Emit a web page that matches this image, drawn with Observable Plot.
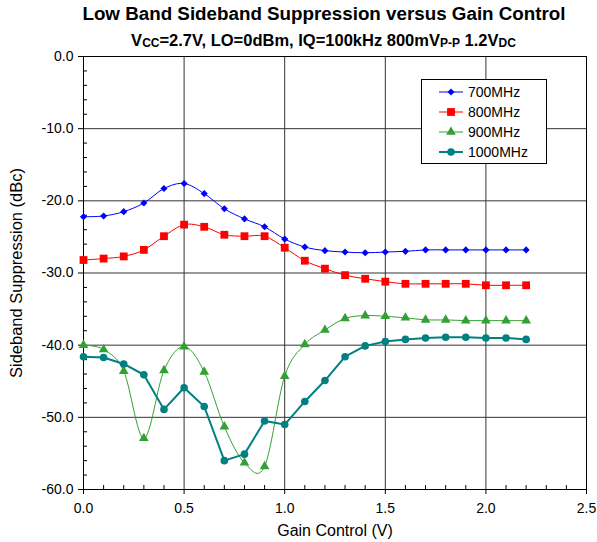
<!DOCTYPE html>
<html><head><meta charset="utf-8">
<script src="https://cdn.jsdelivr.net/npm/d3@7"></script>
<script src="https://cdn.jsdelivr.net/npm/@observablehq/plot@0.6"></script>
<style>
body{margin:0;background:#fff;font-family:"Liberation Sans",Arial,sans-serif;}
#wrap{position:relative;width:597px;height:542px;overflow:hidden;}
.title{position:absolute;text-align:center;font-weight:bold;color:#000;white-space:nowrap;line-height:1;}
.title sub{font-size:12px;vertical-align:-1px;line-height:0;}
#chart{position:absolute;left:0;top:0;}
#legend{position:absolute;left:421px;top:79px;}
</style></head><body>
<div id="wrap">
<div id="chart"></div>
<div class="title" style="top:4.8px;left:25.5px;width:597px;font-size:18.8px;">Low Band Sideband Suppression versus Gain Control</div>
<div class="title" style="top:31.7px;left:25px;width:597px;font-size:16.5px;">V<sub>CC</sub>=2.7V, LO=0dBm, IQ=100kHz 800mV<sub>P-P</sub> 1.2V<sub>DC</sub></div>
<div id="legend"></div>
</div>
<script>
const gain = [0.0,0.1,0.2,0.3,0.4,0.5,0.6,0.7,0.8,0.9,1.0,1.1,1.2,1.3,1.4,1.5,1.6,1.7,1.8,1.9,2.0,2.1,2.2];
const s700 = [-22.2,-22.1,-21.5,-20.3,-18.3,-17.6,-19.0,-21.1,-22.5,-23.6,-25.3,-26.4,-26.9,-27.1,-27.2,-27.1,-27.0,-26.8,-26.8,-26.8,-26.8,-26.8,-26.8];
const s800 = [-28.2,-28.0,-27.7,-26.8,-24.9,-23.3,-23.6,-24.7,-24.9,-24.9,-26.5,-28.3,-29.4,-30.3,-30.8,-31.2,-31.5,-31.5,-31.5,-31.5,-31.7,-31.7,-31.7];
const s900 = [-40.0,-40.6,-43.6,-52.9,-43.5,-40.2,-43.7,-51.3,-56.3,-56.8,-44.3,-39.9,-37.9,-36.3,-35.9,-36.0,-36.2,-36.5,-36.5,-36.6,-36.6,-36.6,-36.6];
const s1000 = [-41.6,-41.7,-42.6,-44.1,-48.9,-45.9,-48.5,-56.0,-55.1,-50.5,-51.0,-47.8,-44.9,-41.6,-40.1,-39.5,-39.2,-39.0,-38.9,-38.9,-39.0,-39.0,-39.2];
const seriesNames = ["700MHz","800MHz","900MHz","1000MHz"];
const seriesColors = ["#0000ff","#ff0000","#33a033","#008080"];
const seriesSymbols = ["diamond2","square","triangle","circle"];
const xTicks = [0,0.5,1.0,1.5,2.0,2.5];
const xMinorTicks = [0.1,0.2,0.3,0.4,0.6,0.7,0.8,0.9,1.1,1.2,1.3,1.4,1.6,1.7,1.8,1.9,2.1,2.2,2.3,2.4];
const yTicks = [0,-10,-20,-30,-40,-50,-60];
const yMinorTicks = [-2,-4,-6,-8,-12,-14,-16,-18,-22,-24,-26,-28,-32,-34,-36,-38,-42,-44,-46,-48,-52,-54,-56,-58];
const xTitle = "Gain Control (V)";
const yTitle = "Sideband Suppression (dBc)";

const allSeries = [s700,s800,s900,s1000];
const data = allSeries.flatMap((s,k)=>s.map((v,i)=>({x:gain[i], y:v, series:seriesNames[k]})));

const smooth = d3.curveCardinal.tension(0);
const styleFor = [
  {curve: smooth, strokeWidth:1, r:3.2},
  {curve: smooth, strokeWidth:1, r:4.4},
  {curve: smooth, strokeWidth:1, r:3.6},
  {curve: "linear", strokeWidth:2, r:3.8}
];

const marks = [
  Plot.gridX(xTicks, {stroke:"#333", strokeOpacity:1, strokeWidth:1}),
  Plot.gridY(yTicks, {stroke:"#333", strokeOpacity:1, strokeWidth:1}),
  Plot.axisX(xMinorTicks, {tickSize:-4, tickFormat:()=>"", label:null, stroke:"#000"}),
  Plot.axisY(yMinorTicks, {tickSize:-4, tickFormat:()=>"", label:null, stroke:"#000"}),
  Plot.axisX(xTicks, {tickSize:5, tickPadding:9, tickFormat:d=>d.toFixed(1), label:null, fontSize:14}),
  Plot.axisY(yTicks, {tickSize:5, tickPadding:5, tickFormat:d=>d.toFixed(1), label:null, fontSize:14}),
  Plot.frame({stroke:"#000", strokeWidth:1}),
];
seriesNames.forEach((name,k)=>{
  const d = data.filter(p=>p.series===name);
  marks.push(Plot.line(d, {x:"x", y:"y", stroke:seriesColors[k], strokeWidth:styleFor[k].strokeWidth, curve:styleFor[k].curve}));
  marks.push(Plot.dot(d, {x:"x", y:"y", symbol:()=>seriesSymbols[k], fill:seriesColors[k], stroke:"none", r:styleFor[k].r}));
});
marks.push(Plot.text([xTitle], {frameAnchor:"bottom", dy:46, text:d=>d, fontSize:16, fill:"#000"}));
marks.push(Plot.text([yTitle], {frameAnchor:"left", textAnchor:"middle", dx:-67, rotate:-90, text:d=>d, fontSize:16.5, fill:"#000"}));

const chart = Plot.plot({
  width:597, height:542,
  marginLeft:83, marginRight:11, marginTop:56, marginBottom:53,
  x:{domain:[0,2.5]},
  y:{domain:[-60,0]},
  symbol:{type:"identity"},
  style:{fontFamily:"Liberation Sans, Arial, sans-serif", fontSize:"14px", color:"#000", background:"transparent", overflow:"visible"},
  marks
});
document.getElementById("chart").appendChild(chart);

// legend
const lw = 126, lh = 85;
const lg = d3.select("#legend").append("svg").attr("width", lw).attr("height", lh);
lg.append("rect").attr("x",0.5).attr("y",0.5).attr("width",lw-1).attr("height",lh-1).attr("fill","#fff").attr("stroke","#000");
const symMap = {diamond2:d3.symbolDiamond2, square:d3.symbolSquare, triangle:d3.symbolTriangle, circle:d3.symbolCircle};
seriesNames.forEach((name,k)=>{
  const cy = 13 + k*20;
  const g = lg.append("g").attr("transform",`translate(0,${cy})`);
  g.append("line").attr("x1",18).attr("x2",42).attr("y1",0).attr("y2",0).attr("stroke",seriesColors[k]).attr("stroke-width",k===3?2:1);
  const r = styleFor[k].r;
  g.append("path").attr("d", d3.symbol(symMap[seriesSymbols[k]], Math.PI*r*r)()).attr("transform","translate(30,0)").attr("fill",seriesColors[k]);
  g.append("text").attr("x",47).attr("y",0).attr("dy","0.35em").attr("font-size",14).attr("font-family","Liberation Sans, Arial, sans-serif").text(name);
});
</script>
</body></html>
